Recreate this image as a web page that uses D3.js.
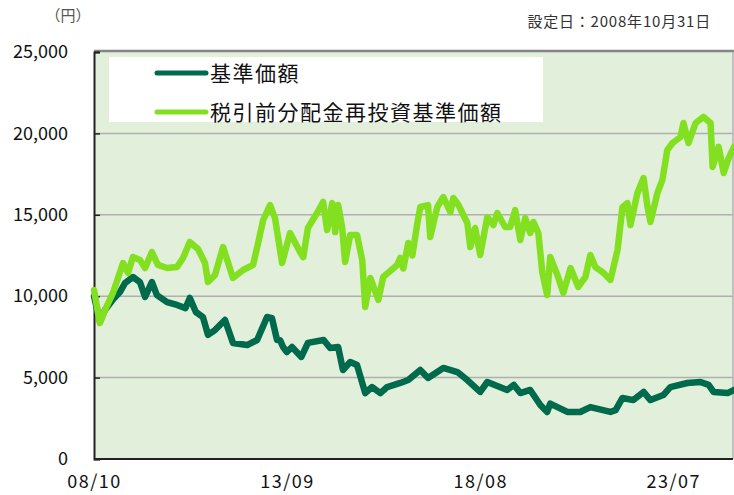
<!DOCTYPE html>
<html>
<head>
<meta charset="utf-8">
<script src="https://cdn.jsdelivr.net/npm/d3@7"></script>
<style>
  body { margin: 0; background: #fff; }
  text { font-family: "Noto Sans CJK JP", "Noto Sans", sans-serif; }
</style>
</head>
<body>
<div id="chart"></div>
<script>
// base price (基準価額)
let navDates = [
  "2008-10-31", "2008-12-25", "2009-02-10", "2009-04-25", "2009-06-29", "2009-08-15",
  "2009-10-28", "2010-01-01", "2010-02-18", "2010-04-22", "2010-06-08", "2010-09-10",
  "2010-12-12", "2011-03-01", "2011-04-10", "2011-06-05", "2011-08-10", "2011-09-26",
  "2011-11-30", "2012-03-02", "2012-05-15", "2012-09-24", "2012-12-26", "2013-03-28",
  "2013-05-13", "2013-06-29", "2013-07-27", "2013-08-24", "2013-09-28", "2013-11-15",
  "2014-02-10", "2014-04-12", "2014-09-05", "2014-11-05", "2015-01-18", "2015-03-04",
  "2015-05-10", "2015-07-13", "2015-09-27", "2015-11-30", "2016-02-15", "2016-04-18",
  "2016-08-18", "2016-10-31", "2017-02-20", "2017-05-03", "2017-09-22", "2018-01-31",
  "2018-05-03", "2018-08-31", "2018-11-05", "2019-05-09", "2019-07-10", "2019-09-08",
  "2019-12-09", "2020-03-12", "2020-05-15", "2020-06-12", "2020-11-18", "2021-03-18",
  "2021-06-20", "2021-12-24", "2022-02-10", "2022-04-15", "2022-07-25", "2022-10-28",
  "2022-12-31", "2023-04-30", "2023-07-04", "2023-12-09", "2024-04-09", "2024-06-24",
  "2024-08-09", "2024-12-18", "2025-02-15"
];
let navValues = [
  10000, 8450, 9150, 9800, 10250, 10800,
  11180, 10870, 9950, 10870, 10070, 9640,
  9460, 9270, 9890, 9030, 8720, 7620,
  7920, 8540, 7130, 7000, 7310, 8720,
  8650, 7310, 7300, 6880, 6570, 6880,
  6270, 7130, 7310, 6820, 6880, 5470,
  5960, 5770, 4050, 4420, 4050, 4420,
  4670, 4850, 5470, 4980, 5590, 5340,
  4850, 4120, 4730, 4240, 4550, 4050,
  4240, 3320, 2890, 3400, 2890, 2890,
  3190, 2890, 3000, 3750, 3620, 4120,
  3620, 3930, 4420, 4670, 4730, 4550,
  4120, 4050, 4240
];

// price with dividends reinvested (税引前分配金再投資基準価額)
let reDates = [
  "2008-10-31", "2008-12-25", "2009-02-10", "2009-04-25", "2009-07-28", "2009-09-12",
  "2009-10-28", "2010-01-01", "2010-02-18", "2010-04-22", "2010-06-17", "2010-09-10",
  "2010-12-12", "2011-02-06", "2011-04-10", "2011-06-25", "2011-08-29", "2011-09-26",
  "2011-11-30", "2012-02-13", "2012-05-15", "2012-08-17", "2012-11-18", "2013-01-04",
  "2013-02-20", "2013-04-25", "2013-06-10", "2013-08-15", "2013-10-28", "2014-01-30",
  "2014-02-28", "2014-04-12", "2014-07-06", "2014-08-31", "2014-10-08", "2014-11-24",
  "2014-12-22", "2015-01-18", "2015-02-24", "2015-03-24", "2015-05-10", "2015-07-13",
  "2015-08-30", "2015-09-27", "2015-11-13", "2016-01-27", "2016-03-12", "2016-07-20",
  "2016-08-18", "2016-09-15", "2016-10-31", "2016-12-08", "2017-01-24", "2017-02-20",
  "2017-05-03", "2017-05-23", "2017-07-28", "2017-09-22", "2017-11-27", "2017-12-24",
  "2018-02-10", "2018-05-03", "2018-05-31", "2018-07-15", "2018-08-31", "2018-11-05",
  "2018-12-31", "2019-02-06", "2019-04-20", "2019-06-05", "2019-07-22", "2019-09-08",
  "2019-10-24", "2019-12-09", "2020-01-08", "2020-02-23", "2020-03-31", "2020-05-15",
  "2020-06-12", "2020-08-18", "2020-10-12", "2020-12-18", "2021-02-28", "2021-05-05",
  "2021-06-20", "2021-08-06", "2021-10-21", "2021-12-24", "2022-02-28", "2022-04-15",
  "2022-05-31", "2022-06-28", "2022-09-01", "2022-10-28", "2022-12-04", "2022-12-31",
  "2023-03-06", "2023-04-21", "2023-06-06", "2023-07-24", "2023-10-06", "2023-11-03",
  "2023-12-20", "2024-02-24", "2024-05-08", "2024-07-12", "2024-07-31", "2024-09-25",
  "2024-11-11", "2024-12-28", "2025-02-15"
];
let reValues = [
  10380, 8350, 9150, 10200, 12040, 11430,
  12410, 12220, 11730, 12710, 11920, 11730,
  11790, 12350, 13330, 12900, 12040, 10870,
  11300, 13020, 11120, 11610, 11920, 13270,
  14680, 15600, 14800, 12040, 13880, 12700,
  12400, 14190, 15110, 15790, 14070, 15720,
  13940, 15600, 14250, 12100, 13760, 13760,
  12220, 9340, 11120, 9770, 11180, 11920,
  12350, 11700, 13270, 12500, 14500, 15480,
  15600, 13640, 15480, 16090, 15170, 16030,
  15600, 14500, 13020, 14190, 12530, 14860,
  14370, 15110, 14250, 14250, 15290, 13450,
  14800, 13880, 14560, 13880, 11430, 10070,
  12410, 11300, 10200, 11730, 10570, 11180,
  12530, 11790, 11430, 11000, 12840, 15480,
  15720, 14370, 16340, 17260, 15480, 14560,
  16340, 17140, 18980, 19410, 19780, 20640,
  19410, 20640, 21010, 20640, 17940, 19170,
  17570, 18500, 19170
];

let xTickDates = ["2008-10-31", "2013-09-30", "2018-08-31", "2023-07-31"];
let xTickLabels = ["08/10", "13/09", "18/08", "23/07"];
let yTicks = [0, 5000, 10000, 15000, 20000, 25000];
let legendNames = ["基準価額", "税引前分配金再投資基準価額"];

////////////////////////////////////////////////////////////////////////
let width = 734;
let height = 495;
let plotLeft = 94, plotRight = 733, plotTop = 52, plotBottom = 459;
let darkColor = "#006a4c";
let lightColor = "#82e021";

let parse = d3.timeParse("%Y-%m-%d");

let svg = d3.select("#chart")
  .append("svg")
  .attr("width", width).attr("height", height);

let xScale = d3.scaleTime()
  .domain([parse("2008-10-31"), parse("2025-02-15")])
  .range([plotLeft, 734]);

let yScale = d3.scaleLinear()
  .domain([0, 25000])
  .range([plotBottom, plotTop]);

// plot background
svg.append("rect")
  .attr("x", plotLeft).attr("y", plotTop)
  .attr("width", plotRight - plotLeft).attr("height", plotBottom - plotTop)
  .attr("fill", "#e2efda");

// gridlines
svg.selectAll(".grid")
  .data(yTicks.filter(d => d > 0 && d < 25000))
  .enter()
  .append("line")
  .attr("x1", plotLeft).attr("x2", plotRight)
  .attr("y1", d => yScale(d)).attr("y2", d => yScale(d))
  .attr("stroke", "#b0b0b0").attr("stroke-width", 1.5);

// top and right border
svg.append("line")
  .attr("x1", plotLeft).attr("x2", plotRight + 1).attr("y1", plotTop - 1).attr("y2", plotTop - 1)
  .attr("stroke", "#858585").attr("stroke-width", 2.5);
svg.append("line")
  .attr("x1", plotRight).attr("x2", plotRight).attr("y1", plotTop).attr("y2", plotBottom)
  .attr("stroke", "#b0b0b0").attr("stroke-width", 1.5);

// y axis
let yAxis = d3.axisLeft(yScale)
  .tickValues(yTicks)
  .tickSize(-6)
  .tickPadding(26)
  .tickFormat(d3.format(","));

let gy = svg.append("g")
  .attr("transform", "translate(" + plotLeft + ",0)")
  .call(yAxis);
gy.select(".domain").attr("stroke", "#222").attr("stroke-width", 2);
gy.selectAll(".tick line").attr("stroke", "#222").attr("stroke-width", 1.5);
gy.selectAll(".tick text")
  .attr("font-size", 18).attr("fill", "#111")
  .attr("font-family", "'Noto Sans', sans-serif");

// x axis
let xAxis = d3.axisBottom(xScale)
  .tickValues(xTickDates.map(parse))
  .tickSize(0)
  .tickPadding(16)
  .tickFormat((d, i) => xTickLabels[i]);

let gx = svg.append("g")
  .attr("transform", "translate(0," + plotBottom + ")")
  .call(xAxis);
gx.select(".domain").attr("stroke", "#222").attr("stroke-width", 2)
  .attr("d", "M" + plotLeft + ",0H" + plotRight);
gx.selectAll(".tick text")
  .attr("font-size", 18).attr("fill", "#111")
  .attr("letter-spacing", 1.5);

// series lines
let line = d3.line()
  .x(d => xScale(d.date))
  .y(d => yScale(d.value));

let navData = navDates.map((d, i) => ({ date: parse(d), value: navValues[i] }));
let reData = reDates.map((d, i) => ({ date: parse(d), value: reValues[i] }));

svg.append("path")
  .datum(navData)
  .attr("d", line)
  .attr("fill", "none")
  .attr("stroke", darkColor)
  .attr("stroke-width", 6.5)
  .attr("stroke-linejoin", "round")
  .attr("stroke-linecap", "round");

svg.append("path")
  .datum(reData)
  .attr("d", line)
  .attr("fill", "none")
  .attr("stroke", lightColor)
  .attr("stroke-width", 6.5)
  .attr("stroke-linejoin", "round")
  .attr("stroke-linecap", "round");

// legend
svg.append("rect")
  .attr("x", 109).attr("y", 57)
  .attr("width", 434).attr("height", 65)
  .attr("fill", "#fff");

let legend = svg.selectAll(".legend")
  .data(legendNames)
  .enter()
  .append("g")
  .attr("transform", (d, i) => "translate(0," + (73 + i * 39) + ")");

legend.append("line")
  .attr("x1", 157).attr("x2", 206)
  .attr("stroke", (d, i) => i == 0 ? darkColor : lightColor)
  .attr("stroke-width", 5)
  .attr("stroke-linecap", "round");

legend.append("text")
  .attr("x", 210).attr("y", 0)
  .attr("dy", "0.36em")
  .attr("font-size", 21)
  .attr("letter-spacing", 1.5)
  .attr("fill", "#111")
  .text(d => d);

// unit and setup date
svg.append("text")
  .attr("x", 68).attr("y", 16).attr("dy", "0.35em")
  .attr("text-anchor", "middle")
  .attr("font-size", 15).attr("fill", "#555")
  .text("（円）");

svg.append("text")
  .attr("x", 711).attr("y", 22).attr("dy", "0.35em")
  .attr("text-anchor", "end")
  .attr("font-size", 15).attr("letter-spacing", 0.8).attr("fill", "#333")
  .text("設定日：2008年10月31日");
</script>
</body>
</html>
